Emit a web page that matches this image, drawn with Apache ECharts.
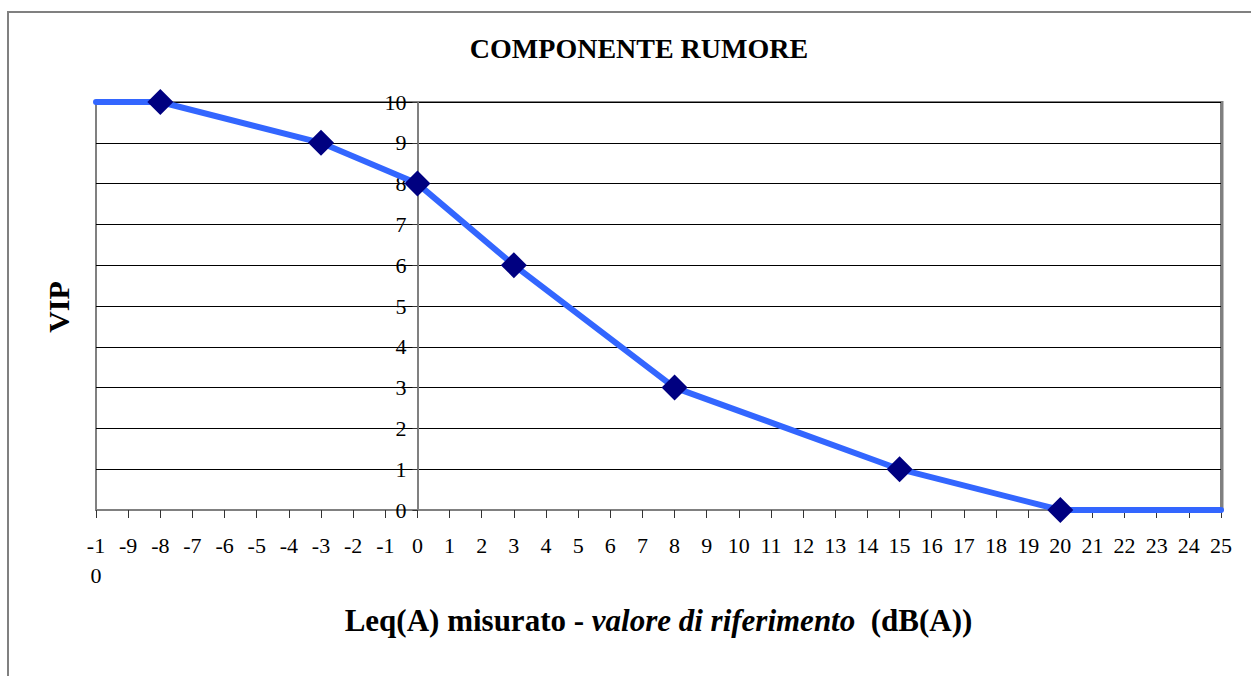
<!DOCTYPE html>
<html>
<head>
<meta charset="utf-8">
<script src="https://cdn.jsdelivr.net/npm/echarts@6/dist/echarts.min.js"></script>
<style>
html,body{margin:0;padding:0;background:#fff;}
#chart{width:1251px;height:676px;}
</style>
</head>
<body>
<div id="chart"></div>
<script>
// Data
const titleText = 'COMPONENTE RUMORE';
const yName = 'VIP';
const xValues = [-10, -8, -3, 0, 3, 8, 15, 20, 25];
const vipValues = [10, 10, 9, 8, 6, 3, 1, 0, 0];
const markerShown = [false, true, true, true, true, true, true, true, false];
const xMin = -10, xMax = 25, yMin = 0, yMax = 10;

const serif = 'Liberation Serif';
const chart = echarts.init(document.getElementById('chart'), null, {renderer: 'svg'});

const gridLeft = 96, gridRight = 30;
const plotWidth = 1251 - gridLeft - gridRight;
const yAxisOffset = -plotWidth * (0 - xMin) / (xMax - xMin);

const seriesData = xValues.map((x, i) => {
  const item = {value: [x, vipValues[i]]};
  if (!markerShown[i]) item.symbol = 'none';
  return item;
});

chart.setOption({
  backgroundColor: '#fff',
  animation: false,
  textStyle: {fontFamily: serif},
  title: {
    text: titleText,
    left: 634, top: 29, textAlign: 'center',
    textStyle: {fontFamily: serif, fontWeight: 'bold', fontSize: 28, color: '#000'}
  },
  graphic: [
    {type: 'rect', shape: {x: 8, y: 12, width: 1400, height: 800},
     style: {fill: 'none', stroke: '#808080', lineWidth: 2}, silent: true},
    {type: 'text', x: 58, y: 307, rotation: Math.PI / 2,
     style: {text: yName, fontFamily: serif, fontWeight: 'bold', fontSize: 30, fill: '#000', align: 'center', verticalAlign: 'middle'}},
    {type: 'line', shape: {x1: 1222, y1: 101, x2: 1222, y2: 511},
     style: {stroke: '#808080', lineWidth: 3}, silent: true}
  ],
  grid: {
    left: gridLeft, right: gridRight, top: 102, bottom: 166,
    show: true, borderColor: '#808080', borderWidth: 2, backgroundColor: 'transparent'
  },
  xAxis: {
    type: 'value', min: xMin, max: xMax, interval: 1,
    name: '{n|Leq(A) misurato - }{i|valore di riferimento}{n|  (dB(A))}',
    nameLocation: 'middle', nameGap: 95,
    nameTextStyle: {
      rich: {
        n: {fontFamily: serif, fontWeight: 'bold', fontSize: 31, color: '#000'},
        i: {fontFamily: serif, fontWeight: 'bold', fontStyle: 'italic', fontSize: 31, color: '#000'}
      }
    },
    axisLine: {show: true, onZero: true, lineStyle: {color: '#808080', width: 2}},
    axisTick: {show: true, length: 8, lineStyle: {color: '#333', width: 1}},
    axisLabel: {
      fontFamily: serif, fontSize: 22, color: '#000', margin: 20, lineHeight: 30,
      formatter: v => v === -10 ? '-1\n0' : String(v)
    },
    splitLine: {show: false}
  },
  yAxis: {
    type: 'value', min: yMin, max: yMax, interval: 1,
    position: 'left', offset: yAxisOffset,
    axisLine: {show: true, onZero: false, lineStyle: {color: '#808080', width: 2}},
    axisTick: {show: true, length: 5, lineStyle: {color: '#333', width: 1}},
    axisLabel: {fontFamily: serif, fontSize: 22, color: '#000', margin: 11},
    splitLine: {show: true, lineStyle: {color: '#000', width: 1}}
  },
  series: [{
    type: 'line',
    data: seriesData,
    symbol: 'diamond',
    symbolSize: [26, 26],
    itemStyle: {color: '#000080'},
    lineStyle: {color: '#3366FF', width: 6, cap: 'round', join: 'round'},
    z: 5
  }]
});
</script>
</body>
</html>
